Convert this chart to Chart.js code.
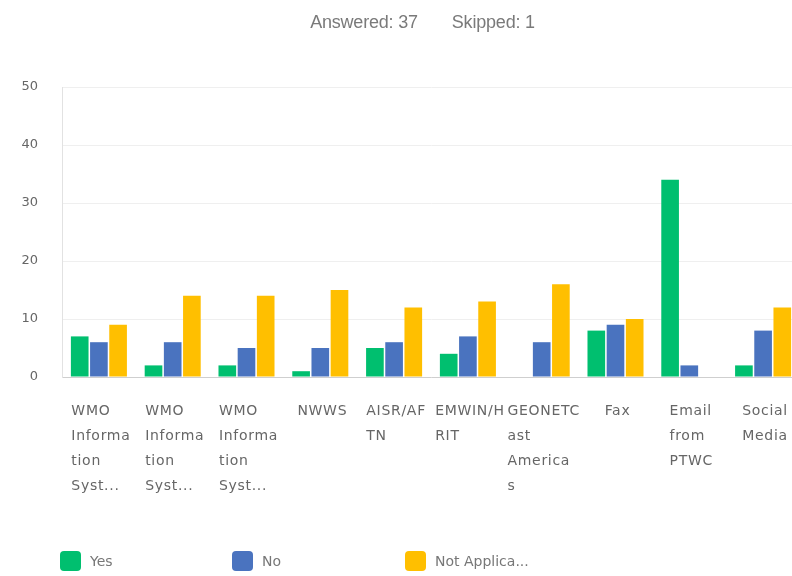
<!DOCTYPE html>
<html>
<head>
<meta charset="utf-8">
<script src="https://cdn.jsdelivr.net/npm/chart.js@4.4.1/dist/chart.umd.min.js"></script>
<style>
  html, body { margin: 0; padding: 0; background: #fff; overflow: hidden; width: 792px; height: 576px; }
  #wrap { position: absolute; left: 0; top: 0; width: 800px; height: 576px; }
  #title { position: absolute; top: 12px; left: 0; width: 845px; text-align: center;
           font-family: "Liberation Sans", Arial, sans-serif; font-size: 18px; color: #7a7a7a; letter-spacing: -0.2px; }
  #title span { margin: 0 17px; }
  .leg { position: absolute; top: 551px; height: 20px; font-family: "DejaVu Sans", sans-serif;
         font-size: 14px; color: #777; line-height: 20px; white-space: nowrap; }
  .leg i { display: inline-block; width: 21px; height: 20px; border-radius: 4px; vertical-align: top; margin-right: 9px; }
</style>
</head>
<body>
<div id="wrap"><canvas id="c"></canvas></div>
<div id="title"><span>Answered: 37</span><span>Skipped: 1</span></div>
<div id="legend"></div>
<script>
// ---- data ----
const categoryLines = [
  ["WMO", "Informa", "tion", "Syst..."],
  ["WMO", "Informa", "tion", "Syst..."],
  ["WMO", "Informa", "tion", "Syst..."],
  ["NWWS"],
  ["AISR/AF", "TN"],
  ["EMWIN/H", "RIT"],
  ["GEONETC", "ast", "America", "s"],
  ["Fax"],
  ["Email", "from", "PTWC"],
  ["Social", "Media"]
];
const categories = categoryLines.map(l => l.join(" "));
const seriesNames = ["Yes", "No", "Not Applica..."];
const yesValues = [7, 2, 2, 1, 5, 4, 0, 8, 34, 2];
const noValues = [6, 6, 5, 5, 6, 7, 6, 9, 2, 8];
const naValues = [9, 14, 14, 15, 12, 13, 16, 10, 0, 12];
const seriesColors = ["#00BF6F", "#4A73BF", "#FFBF00"];
const yTicks = [0, 10, 20, 30, 40, 50];

// ---- legend (HTML) ----
const legendX = [60, 232, 405];
const legend = document.getElementById("legend");
seriesNames.forEach((n, i) => {
  const d = document.createElement("div");
  d.className = "leg";
  d.style.left = legendX[i] + "px";
  d.innerHTML = '<i style="background:' + seriesColors[i] + '"></i>' + n;
  legend.appendChild(d);
});

// ---- x labels plugin: block centred on category, lines left-aligned ----
const xLabelPlugin = {
  id: "xLabels",
  afterDraw(chart) {
    const ctx = chart.ctx, xs = chart.scales.x;
    ctx.save();
    ctx.font = '14px "DejaVu Sans", sans-serif';
    try { ctx.letterSpacing = "0.7px"; } catch (e) {}
    ctx.fillStyle = "#666";
    ctx.textBaseline = "middle";
    ctx.textAlign = "left";
    categoryLines.forEach((lines, i) => {
      const cx = xs.getPixelForValue(i);
      const w = Math.max(...lines.map(l => ctx.measureText(l).width));
      const x0 = cx - w / 2 + 2;
      lines.forEach((l, j) => ctx.fillText(l, x0, chart.chartArea.bottom + 34 + j * 25));
    });
    ctx.restore();
  }
};

const datasets = [yesValues, noValues, naValues].map((vals, i) => ({
  label: seriesNames[i],
  data: vals,
  backgroundColor: seriesColors[i],
  borderWidth: 0,
  categoryPercentage: 0.78,
  barPercentage: 0.92
}));

new Chart(document.getElementById("c"), {
  type: "bar",
  data: { labels: categories, datasets },
  plugins: [xLabelPlugin],
  options: {
    responsive: true,
    maintainAspectRatio: false,
    animation: false,
    layout: { padding: { top: 87, left: 0, right: 0, bottom: 0 } },
    plugins: { legend: { display: false }, title: { display: false }, tooltip: { enabled: false } },
    scales: {
      x: {
        grid: { display: false },
        border: { display: true, color: "#cfcfcf", width: 1 },
        ticks: { display: false },
        afterFit(s) { s.height = 199; }
      },
      y: {
        min: 0, max: 50,
        afterBuildTicks(s) { s.ticks = yTicks.map(v => ({ value: v })); },
        grid: { color: "#efefef", drawTicks: false },
        border: { display: true, color: "#e2e2e2" },
        ticks: { padding: 24, color: "#666", font: { family: "DejaVu Sans", size: 13 } },
        afterFit(s) { s.width = 62; }
      }
    }
  }
});
</script>
</body>
</html>
